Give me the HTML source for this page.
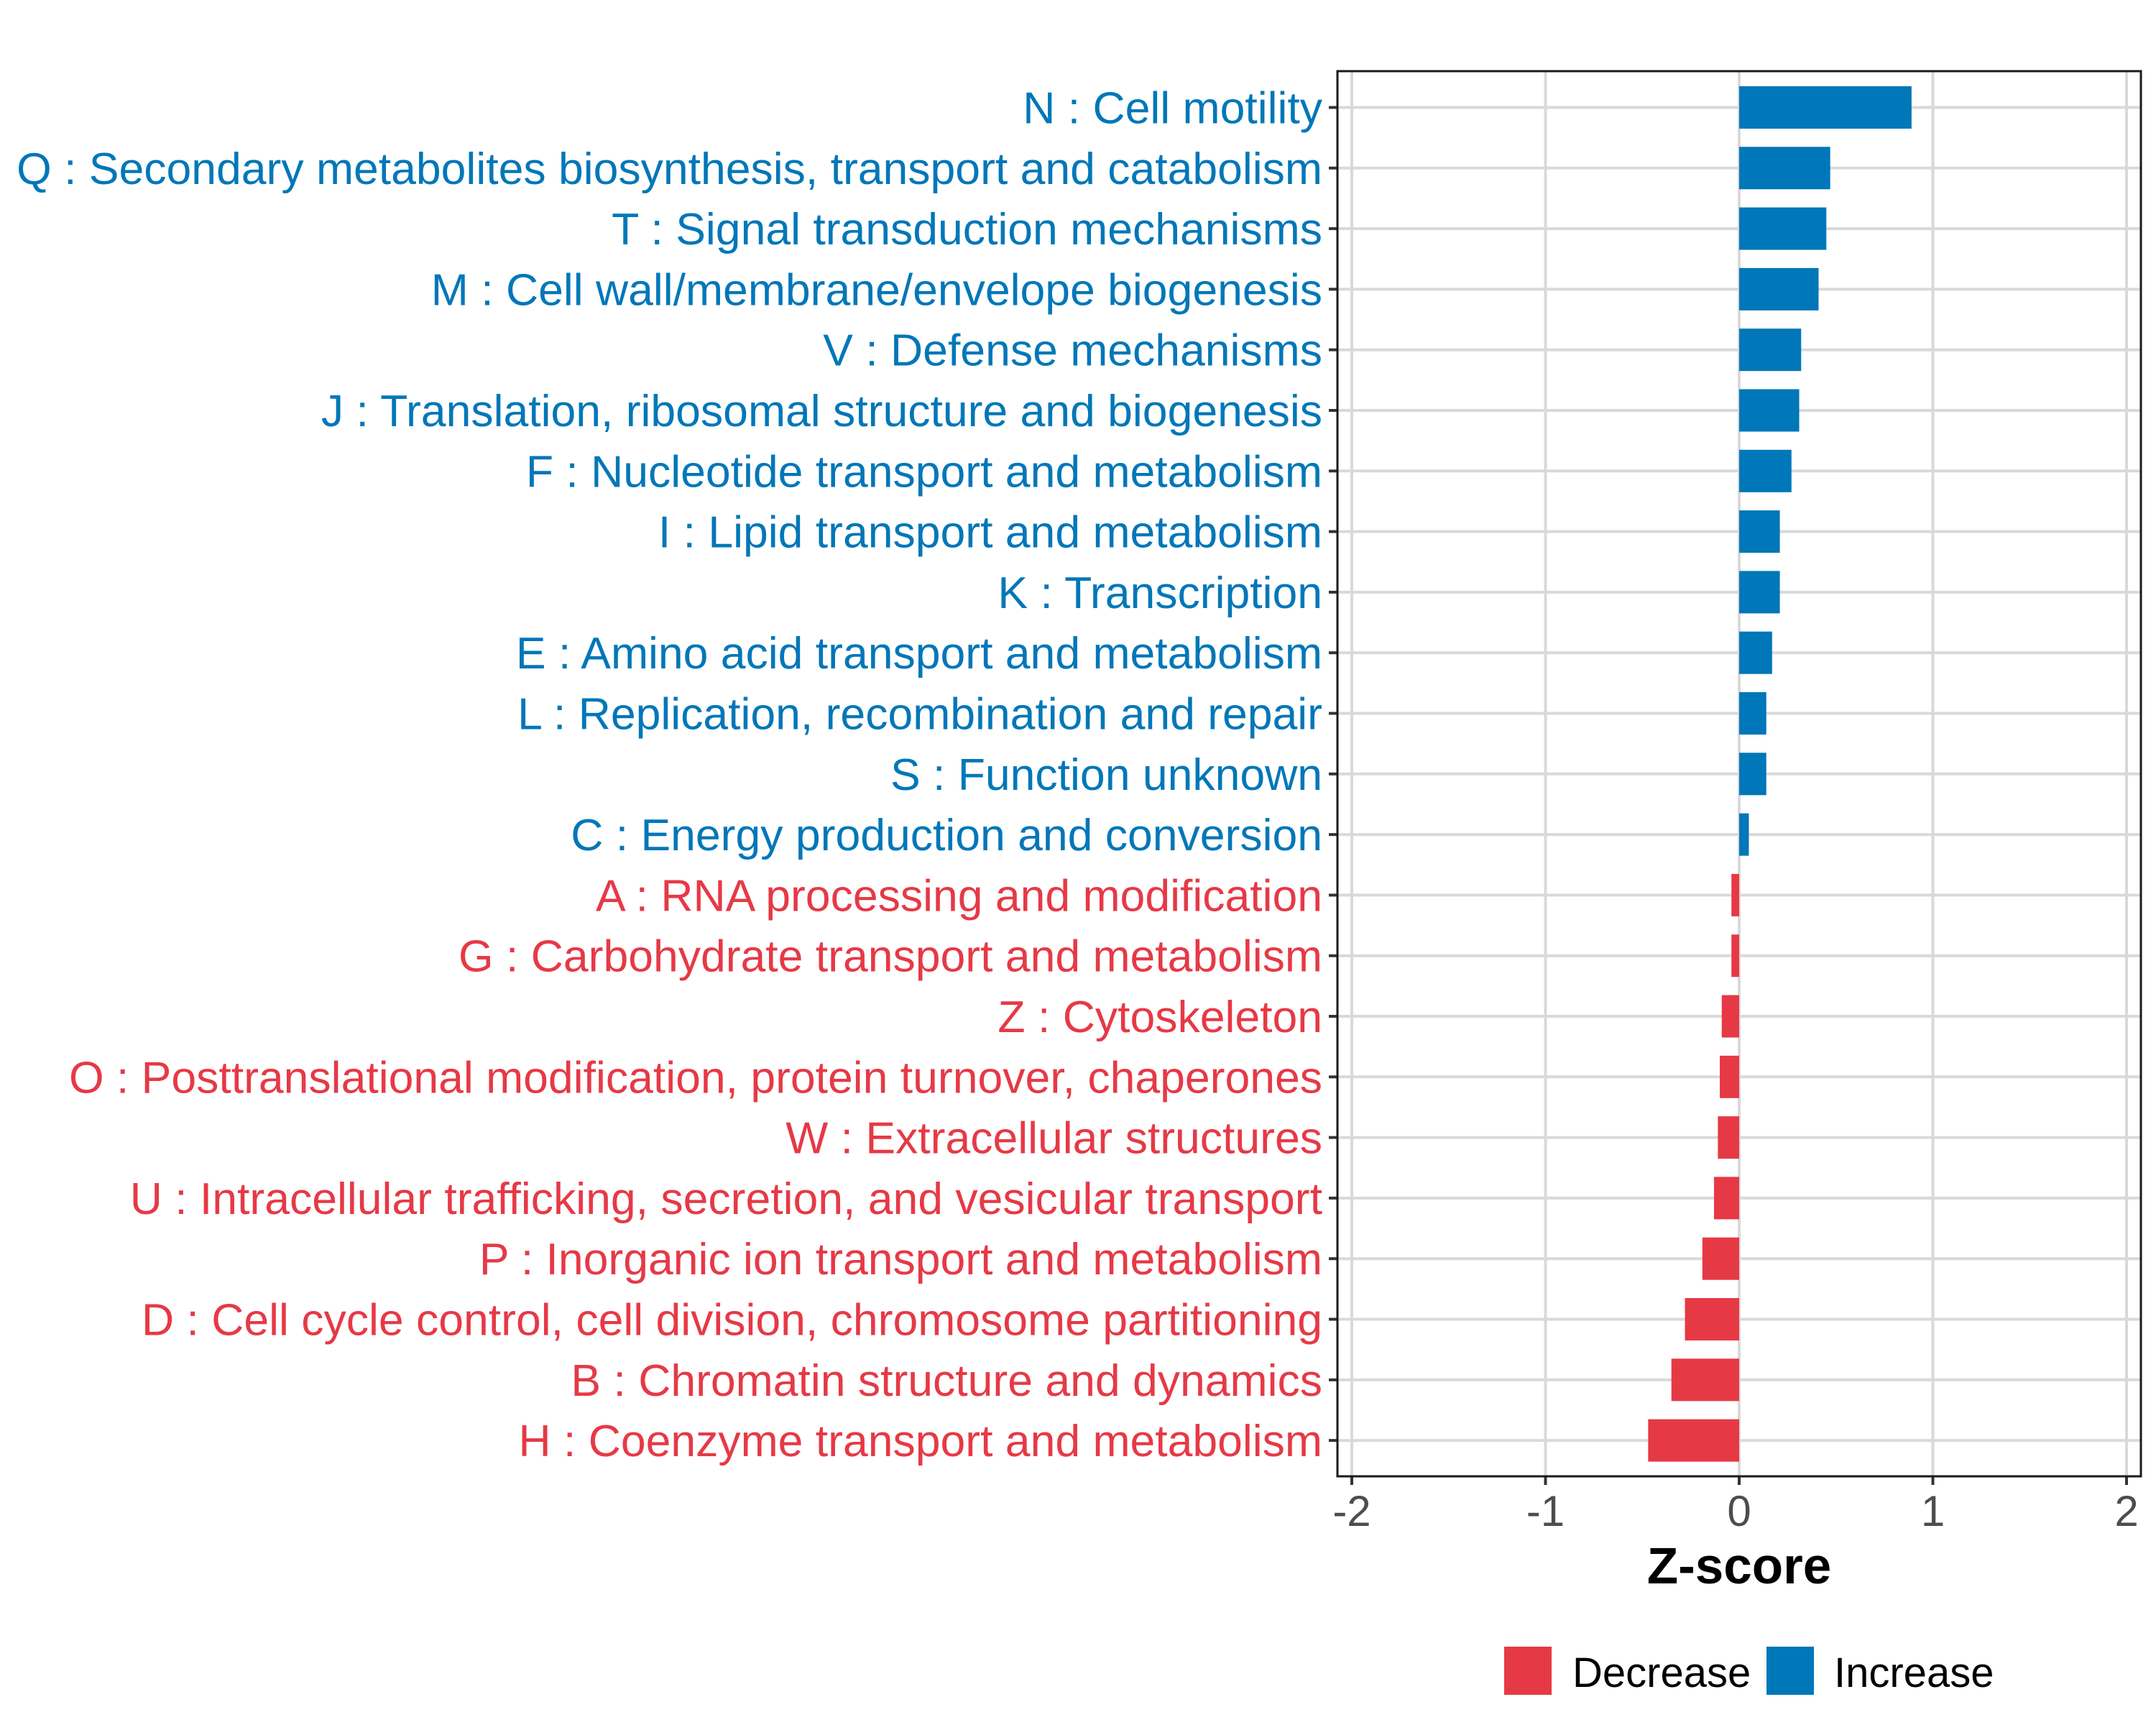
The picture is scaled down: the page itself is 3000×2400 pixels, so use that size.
<!DOCTYPE html>
<html><head><meta charset="utf-8"><style>
html,body{margin:0;padding:0;background:#fff;}
svg{display:block;font-family:"Liberation Sans",Arial,sans-serif;}
</style></head><body>
<svg id="chart" width="3000" height="2400" viewBox="0 0 3000 2400" xmlns="http://www.w3.org/2000/svg">
<rect width="3000" height="2400" fill="#fff"/>
<g id="grid"></g><g id="bars"></g><g id="yaxis"></g><g id="xaxis"></g>
<rect x="1861" y="99" width="1118" height="1955" fill="none" stroke="#1a1a1a" stroke-width="3"/>
<text x="2420" y="2203" text-anchor="middle" font-size="71" font-weight="bold" fill="#000">Z-score</text>
<g>
<rect x="2093" y="2291" width="66" height="67" fill="#E63946"/>
<text x="2188" y="2347" font-size="58" fill="#000">Decrease</text>
<rect x="2458" y="2291" width="66" height="67" fill="#0077B8"/>
<text x="2552" y="2347" font-size="58" fill="#000">Increase</text>
</g>
</svg>
<script>
const categories = ["N : Cell motility","Q : Secondary metabolites biosynthesis, transport and catabolism","T : Signal transduction mechanisms","M : Cell wall/membrane/envelope biogenesis","V : Defense mechanisms","J : Translation, ribosomal structure and biogenesis","F : Nucleotide transport and metabolism","I : Lipid transport and metabolism","K : Transcription","E : Amino acid transport and metabolism","L : Replication, recombination and repair","S : Function unknown","C : Energy production and conversion","A : RNA processing and modification","G : Carbohydrate transport and metabolism","Z : Cytoskeleton","O : Posttranslational modification, protein turnover, chaperones","W : Extracellular structures","U : Intracellular trafficking, secretion, and vesicular transport","P : Inorganic ion transport and metabolism","D : Cell cycle control, cell division, chromosome partitioning","B : Chromatin structure and dynamics","H : Coenzyme transport and metabolism"];
const zscores = [0.89,0.47,0.45,0.41,0.32,0.31,0.27,0.21,0.21,0.17,0.14,0.14,0.05,-0.04,-0.04,-0.09,-0.10,-0.11,-0.13,-0.19,-0.28,-0.35,-0.47];
const xTicks = [-2,-1,0,1,2];
const xTickLabels = ["-2","-1","0","1","2"];

const NS="http://www.w3.org/2000/svg";
const x0=2420, unit=269.5, y0=149.5, step=84.3, barH=59;
const xs=v=>x0+v*unit;
const ys=i=>y0+i*step;
const colPos="#0077B8", colNeg="#E63946";
function mk(t,a,p){const e=document.createElementNS(NS,t);for(const k in a)e.setAttribute(k,a[k]);p.appendChild(e);return e;}
const grid=document.getElementById('grid'),bars=document.getElementById('bars'),ya=document.getElementById('yaxis'),xa=document.getElementById('xaxis');
xTicks.forEach((t,i)=>{
  const l=mk('line',{x1:xs(t),x2:xs(t),y1:99,y2:2054,stroke:'#d9d9d9','stroke-width':4},grid);
  
  
  const tk=mk('line',{x1:xs(t),x2:xs(t),y1:2054,y2:2066,stroke:'#333','stroke-width':4},xa);
  
  
  const tx=mk('text',{x:xs(t),y:2123,'text-anchor':'middle','font-size':60,fill:'#4d4d4d'},xa);
  tx.textContent=xTickLabels[i];
  
  
});
categories.forEach((c,i)=>{
  const y=ys(i), v=zscores[i], col=v>=0?colPos:colNeg;
  const g=mk('line',{x1:1861,x2:2979,y1:y,y2:y,stroke:'#d9d9d9','stroke-width':4},grid);
  
  
  const r=mk('rect',{x:Math.min(xs(0),xs(v)),y:y-barH/2,width:Math.abs(xs(v)-xs(0)),height:barH,fill:col},bars);
  
  
  const tk=mk('line',{x1:1849,x2:1861,y1:y,y2:y,stroke:'#333','stroke-width':4},ya);
  
  
  const tx=mk('text',{x:1840,y:y+22,'text-anchor':'end','font-size':62.5,fill:col},ya);
  tx.textContent=c;
  
  
});
</script>
</body></html>
